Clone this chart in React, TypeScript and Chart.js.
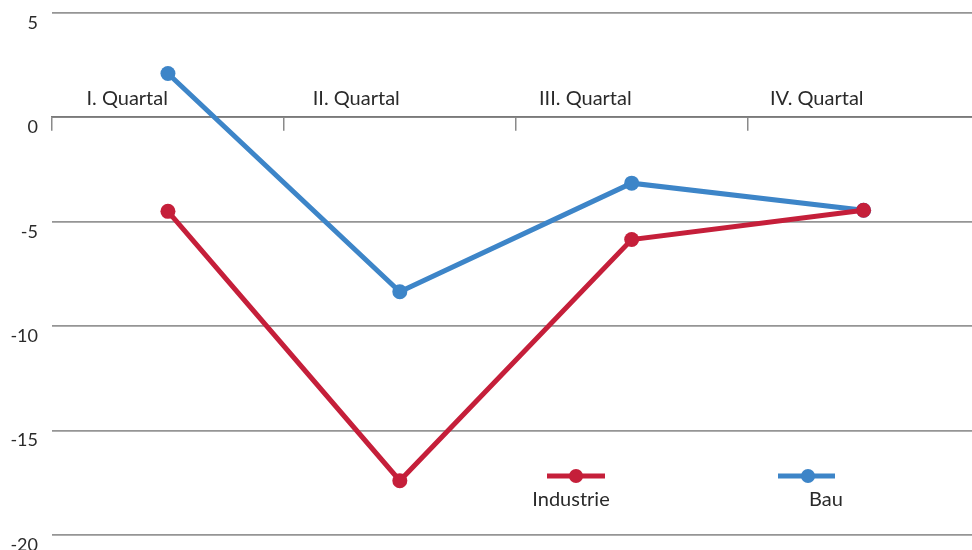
import React, { useEffect, useRef } from 'react';
import { Chart, registerables } from 'chart.js';

Chart.register(...registerables);

const categories = ['I. Quartal', 'II. Quartal', 'III. Quartal', 'IV. Quartal'];
const seriesNames = ['Industrie', 'Bau'];
const industrieValues = [-4.5, -17.4, -5.85, -4.45];
const bauValues = [2.1, -8.35, -3.15, -4.45];
const yMin = -20;
const yMax = 5;
const yStep = 5;

const RED = '#C51F3A';
const BLUE = '#3D85C8';
const TEXT = '#2a2a2a';
const FONT = 'Lato, "Open Sans", sans-serif';

const legendPlugin = {
  id: 'customLegend',
  afterDraw(chart: any, _args: any, opts: any) {
    const { ctx } = chart;
    const items = opts.items || [];
    ctx.save();
    chart.data.datasets.forEach((ds: any, i: number) => {
      const it = items[i];
      if (!it) return;
      ctx.strokeStyle = ds.borderColor;
      ctx.lineWidth = 5;
      ctx.lineCap = 'butt';
      ctx.beginPath();
      ctx.moveTo(it.x1, opts.lineY);
      ctx.lineTo(it.x2, opts.lineY);
      ctx.stroke();
      ctx.fillStyle = ds.borderColor;
      ctx.beginPath();
      ctx.arc(it.dot, opts.lineY, 7, 0, Math.PI * 2);
      ctx.fill();
      ctx.fillStyle = TEXT;
      ctx.font = `20px ${FONT}`;
      ctx.textAlign = 'center';
      ctx.textBaseline = 'alphabetic';
      ctx.fillText(ds.label, it.tx, opts.textY);
    });
    ctx.restore();
  },
};

export default function App() {
  const ref = useRef<HTMLCanvasElement | null>(null);

  useEffect(() => {
    if (!ref.current) return;
    const chart = new Chart(ref.current, {
      type: 'line',
      data: {
        labels: categories,
        datasets: [
          {
            label: seriesNames[0],
            data: industrieValues,
            borderColor: RED,
            backgroundColor: RED,
            borderWidth: 5,
            pointRadius: 7.5,
            pointHoverRadius: 7.5,
            pointBackgroundColor: RED,
            pointBorderWidth: 0,
            tension: 0,
          },
          {
            label: seriesNames[1],
            data: bauValues,
            borderColor: BLUE,
            backgroundColor: BLUE,
            borderWidth: 5,
            pointRadius: 7.5,
            pointHoverRadius: 7.5,
            pointBackgroundColor: BLUE,
            pointBorderWidth: 0,
            tension: 0,
          },
        ],
      },
      plugins: [legendPlugin],
      options: {
        animation: false,
        responsive: false,
        maintainAspectRatio: false,
        layout: { padding: { top: 13, bottom: 15, left: 0, right: 0 } },
        plugins: {
          legend: { display: false },
          tooltip: { enabled: false },
          customLegend: {
            lineY: 476,
            textY: 506,
            items: [
              { x1: 547, x2: 605, dot: 576, tx: 571 },
              { x1: 778, x2: 835, dot: 808, tx: 826 },
            ],
          },
        } as any,
        scales: {
          x: {
            type: 'category',
            position: { y: 0 } as any,
            offset: true,
            grid: {
              offset: true,
              drawOnChartArea: false,
              drawTicks: true,
              tickLength: 13,
              color: '#8a8a8a',
              lineWidth: 1.5,
            },
            border: { display: true, color: '#7a7a7a', width: 1.8 },
            ticks: {
              align: 'end',
              padding: -44,
              color: TEXT,
              font: { family: FONT, size: 20 },
              maxRotation: 0,
              autoSkip: false,
            },
          },
          y: {
            min: yMin,
            max: yMax,
            afterFit: (scale: any) => {
              scale.width = 52;
              scale.paddingTop = 0;
              scale.paddingBottom = 0;
            },
            grid: {
              drawTicks: false,
              color: '#959595',
              lineWidth: 1.8,
            },
            border: { display: false },
            ticks: {
              stepSize: yStep,
              padding: 14,
              labelOffset: 10,
              color: TEXT,
              font: { family: FONT, size: 18 },
            },
          },
        },
      },
    });
    return () => chart.destroy();
  }, []);

  return (
    <div
      style={{
        position: 'absolute',
        left: 0,
        top: 0,
        width: 972,
        height: 550,
        overflow: 'hidden',
        background: '#fff',
      }}
    >
      <canvas ref={ref} width={987} height={550} style={{ display: 'block' }} />
    </div>
  );
}
